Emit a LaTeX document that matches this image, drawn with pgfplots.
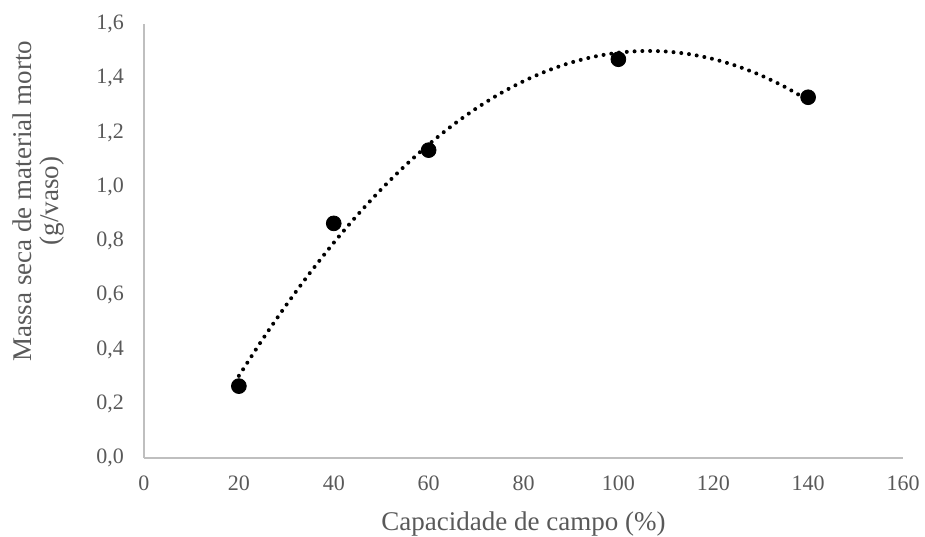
\documentclass[border=0pt]{standalone}
\usepackage{fontspec}
\setmainfont{Liberation Serif}
\usepackage{pgfplots}
\pgfplotsset{compat=1.18}
\definecolor{txt}{HTML}{595959}
\definecolor{axl}{HTML}{BFBFBF}
\begin{document}
\begin{tikzpicture}
\useasboundingbox (-72pt,-39pt) rectangle (390.5pt,229pt);
\begin{axis}[
  at={(0,0)}, anchor=south west,
  scale only axis, width=379.5pt, height=217pt,
  xmin=0, xmax=160, ymin=0, ymax=1.6,
  xtick={0,20,...,160}, ytick={0,0.2,...,1.6},
  axis x line*=bottom, axis y line*=left,
  axis line style={axl, line width=0.8pt, -},
  major tick length=0pt,
  tick label style={font=\fontsize{11}{13}\selectfont, text=txt},
  /pgf/number format/assume math mode=true,
  yticklabel={\pgfmathprintnumber[fixed, fixed zerofill, precision=1, use comma]{\tick}},
  xticklabel={\pgfmathprintnumber[fixed, precision=0]{\tick}},
  yticklabel style={anchor=east, xshift=-6.5pt},
  xticklabel style={anchor=north, yshift=-5.5pt},
  xlabel={Capacidade de campo (\%)},
  ylabel={Massa seca de material morto\\(g/vaso)},
  label style={font=\fontsize{13.5}{13.5}\selectfont, text=txt},
  xlabel style={at={(axis description cs:0.5,0)}, anchor=base, yshift=-36pt},
  ylabel style={at={(axis description cs:0,0.592)}, anchor=center, align=center, yshift=52.5pt},
  clip=false,
]
\addplot[black, line width=2pt, line cap=round, dash pattern=on 0pt off 3.9pt, smooth] coordinates {
(20,0.3029) (25,0.4376) (30,0.5642) (35,0.6828) (40,0.7935) (45,0.8960)
(50,0.9905) (55,1.0770) (60,1.1555) (65,1.2260) (70,1.2884) (75,1.3428)
(80,1.3891) (85,1.4274) (90,1.4577) (95,1.4800) (100,1.4942) (105,1.5004)
(110,1.4986) (115,1.4887) (120,1.4708) (125,1.4449) (130,1.4110) (135,1.3690)
(140,1.3190)};
\addplot[only marks, mark=*, mark size=3.7pt, black] coordinates {
(20,0.265) (40,0.865) (60,1.135) (100,1.47) (140,1.33)};
\end{axis}
\end{tikzpicture}
\end{document}
